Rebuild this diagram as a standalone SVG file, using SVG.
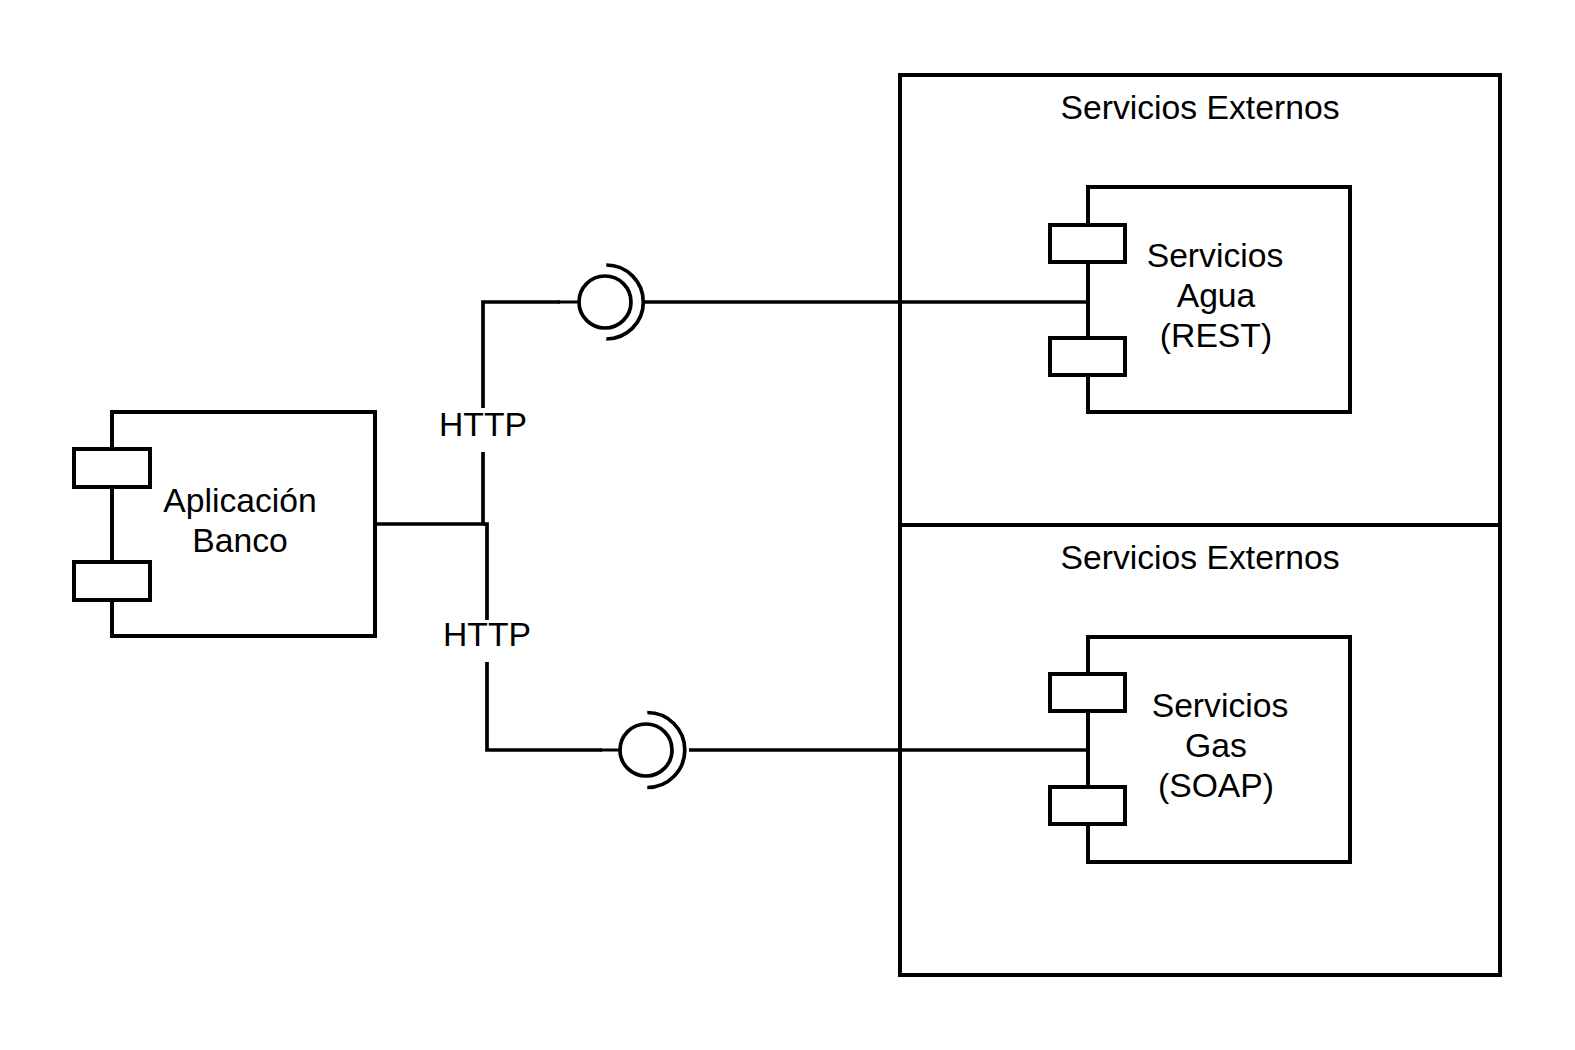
<svg xmlns="http://www.w3.org/2000/svg" width="1575" height="1050" viewBox="0 0 1575 1050">
<style>
.box{fill:#fff;stroke:#000;stroke-width:4}
.port{fill:#fff;stroke:#000;stroke-width:4}
.wire{fill:none;stroke:#000;stroke-width:3.7}
.thin{fill:none;stroke:#000;stroke-width:3}
.ball{fill:#fff;stroke:#000;stroke-width:3.7}
.lbl{fill:#fff;stroke:none}
text{font-family:"Liberation Sans",Arial,sans-serif;font-size:33.7px;fill:#000;text-anchor:middle}
</style>
<rect width="1575" height="1050" fill="#fff"/>
<g id="container-agua">
<rect class="box" x="900" y="75" width="600" height="450" fill="none"/>
<text x="1200" y="119">Servicios Externos</text>
</g>
<g id="container-gas">
<rect class="box" x="900" y="525" width="600" height="450" fill="none"/>
<text x="1200" y="569">Servicios Externos</text>
</g>
<g id="connectors">
<path class="wire" d="M375,524 H483 V302 H560"/>
<path class="thin" d="M558,302 H580"/>
<path class="wire" d="M483,524 H487 V750 H602"/>
<path class="thin" d="M600,750 H621"/>
<path class="wire" d="M645,302 H1088"/>
<path class="wire" d="M689,750 H1088"/>
<rect class="lbl" x="436" y="408" width="94" height="44"/>
<text x="483" y="436">HTTP</text>
<rect class="lbl" x="440" y="620" width="94" height="42"/>
<text x="487" y="646">HTTP</text>
</g>
<g id="socket-agua">
<circle class="ball" cx="605" cy="302" r="26"/>
<path class="wire" d="M606.3,265 A37,37 0 0 1 606.3,339"/>
</g>
<g id="socket-gas">
<circle class="ball" cx="646" cy="750" r="26"/>
<path class="wire" d="M647.3,712.5 A37.5,37.5 0 0 1 647.3,787.5"/>
</g>
<g id="aplicacion-banco">
<rect class="box" x="112" y="412" width="263" height="224"/>
<rect class="port" x="74" y="449" width="76" height="38"/>
<rect class="port" x="74" y="562" width="76" height="38"/>
<text x="240" y="512">Aplicación</text>
<text x="240" y="552">Banco</text>
</g>
<g id="servicios-agua">
<rect class="box" x="1088" y="187" width="262" height="225"/>
<rect class="port" x="1050" y="225" width="75" height="37"/>
<rect class="port" x="1050" y="338" width="75" height="37"/>
<text x="1215" y="267">Servicios</text>
<text x="1216" y="307">Agua</text>
<text x="1216" y="347">(REST)</text>
</g>
<g id="servicios-gas">
<rect class="box" x="1088" y="637" width="262" height="225"/>
<rect class="port" x="1050" y="674" width="75" height="37"/>
<rect class="port" x="1050" y="787" width="75" height="37"/>
<text x="1220" y="717">Servicios</text>
<text x="1216" y="757">Gas</text>
<text x="1216" y="797">(SOAP)</text>
</g>
</svg>
